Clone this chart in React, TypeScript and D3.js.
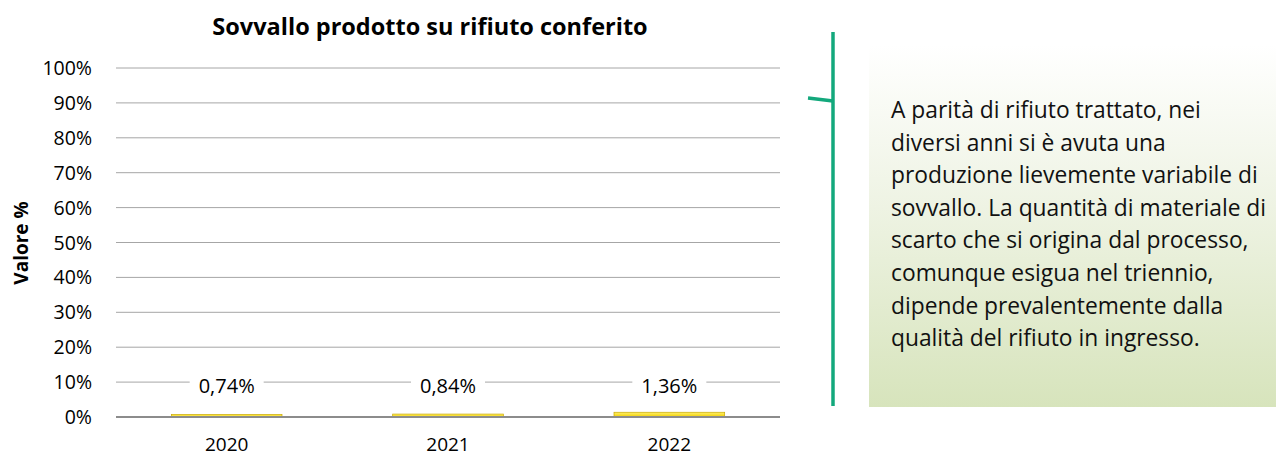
import * as d3 from "d3";

const years = ["2020", "2021", "2022"];
const values = [0.74, 0.84, 1.36];
const valueLabels = ["0,74%", "0,84%", "1,36%"];
const yTicks = [0, 10, 20, 30, 40, 50, 60, 70, 80, 90, 100];
const noteLines = [
  "A parità di rifiuto trattato, nei",
  "diversi anni si è avuta una",
  "produzione lievemente variabile di",
  "sovvallo. La quantità di materiale di",
  "scarto che si origina dal processo,",
  "comunque esigua nel triennio,",
  "dipende prevalentemente dalla",
  "qualità del rifiuto in ingresso.",
];

const W = 1276;
const H = 457;
const FONT = "'Open Sans', sans-serif";
const margin = { top: 68, right: 496, bottom: 40, left: 116 };

export default function App() {
  const x = d3
    .scaleBand()
    .domain(years)
    .range([margin.left, W - margin.right])
    .paddingInner(0.5)
    .paddingOuter(0.25);

  const y = d3
    .scaleLinear()
    .domain([0, 100])
    .range([H - margin.bottom, margin.top]);

  // labels sit on the 10% gridline, above the bars
  const labelBase = 393;

  return (
    <svg
      width={W}
      height={H}
      style={{ position: "absolute", left: 0, top: 0, background: "#fff" }}
      fontFamily={FONT}
    >
      <defs>
        <linearGradient id="boxGrad" x1="0" y1="0" x2="0" y2="1">
          <stop offset="0" stopColor="#ffffff" />
          <stop offset="0.45" stopColor="#eef3e3" />
          <stop offset="1" stopColor="#d7e4bc" />
        </linearGradient>
        <linearGradient id="barGrad" x1="0" y1="0" x2="0" y2="1">
          <stop offset="0" stopColor="#fff06a" />
          <stop offset="1" stopColor="#f2d000" />
        </linearGradient>
      </defs>

      {/* title */}
      <text x={430} y={35} textAnchor="middle" fontSize={23.5} fontWeight="bold" fill="#000">
        Sovvallo prodotto su rifiuto conferito
      </text>

      {/* gridlines */}
      {yTicks.filter(t => t > 0).map(t => (
        <line
          key={t}
          x1={margin.left}
          x2={W - margin.right}
          y1={y(t)}
          y2={y(t)}
          stroke="#a6a6a6"
          strokeWidth={1}
        />
      ))}

      {/* y tick labels */}
      {yTicks.map(t => (
        <text key={t} x={92} y={y(t)} dy="0.36em" textAnchor="end" fontSize={19.5} fill="#000">
          {t + "%"}
        </text>
      ))}

      {/* y axis title */}
      <text
        transform={`translate(28,243) rotate(-90)`}
        textAnchor="middle"
        fontSize={19}
        fontWeight="bold"
        fill="#000"
      >
        Valore %
      </text>

      {/* bars */}
      {years.map((yr, i) => (
        <rect
          key={yr}
          x={x(yr)}
          y={y(values[i])}
          width={x.bandwidth()}
          height={y(0) - y(values[i])}
          fill="url(#barGrad)"
          stroke="#c9a800"
          strokeWidth={0.7}
        />
      ))}

      {/* baseline */}
      <line
        x1={margin.left}
        x2={W - margin.right}
        y1={y(0)}
        y2={y(0)}
        stroke="#8c8c8c"
        strokeWidth={2}
      />

      {/* data labels */}
      {years.map((yr, i) => {
        const cx = (x(yr) ?? 0) + x.bandwidth() / 2;
        return (
          <g key={yr}>
            <rect x={cx - 37} y={labelBase - 20} width={74} height={26} fill="#fff" />
            <text x={cx} y={labelBase} textAnchor="middle" fontSize={20} fill="#000">
              {valueLabels[i]}
            </text>
          </g>
        );
      })}

      {/* x labels */}
      {years.map(yr => (
        <text
          key={yr}
          x={(x(yr) ?? 0) + x.bandwidth() / 2}
          y={451}
          textAnchor="middle"
          fontSize={19}
          fill="#000"
        >
          {yr}
        </text>
      ))}

      {/* bracket */}
      <line x1={833} x2={833} y1={32} y2={406} stroke="#13a87c" strokeWidth={3.5} />
      <line x1={808} x2={833} y1={98} y2={101} stroke="#13a87c" strokeWidth={3.5} />

      {/* note box */}
      <rect x={869} y={45} width={W - 869} height={362} fill="url(#boxGrad)" />
      {noteLines.map((l, i) => (
        <text key={i} x={891} y={118 + i * 32.6} fontSize={22.8} fill="#111">
          {l}
        </text>
      ))}
    </svg>
  );
}
